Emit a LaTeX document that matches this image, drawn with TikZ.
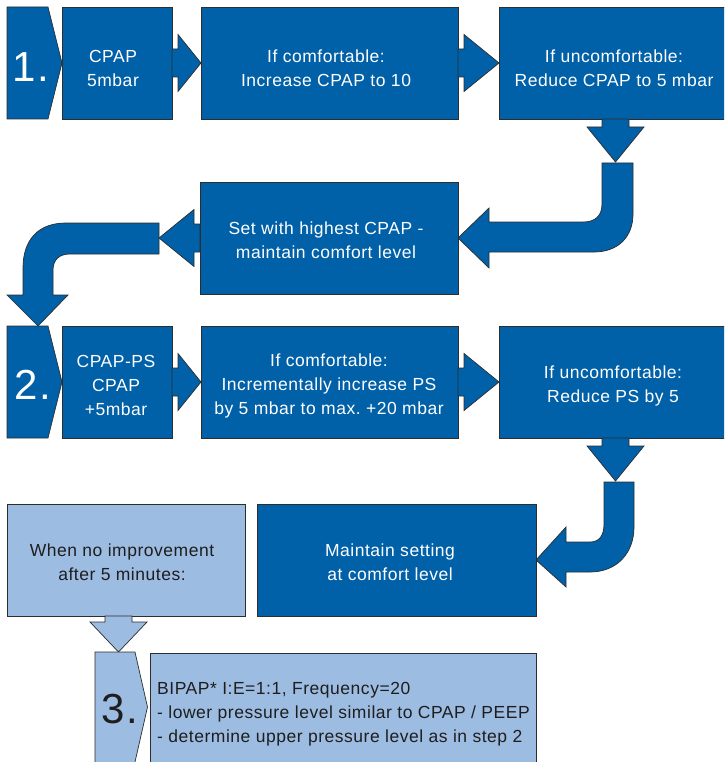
\documentclass[tikz,border=0pt]{standalone}
\usepackage{fontspec}
\setmainfont[LetterSpace=3]{Liberation Sans}
\usetikzlibrary{calc}
\definecolor{dblue}{RGB}{0,96,168}
\definecolor{lblue}{RGB}{157,188,226}
\definecolor{edgec}{RGB}{45,45,45}
\definecolor{dtext}{RGB}{30,30,30}
\frenchspacing
\begin{document}
\begin{tikzpicture}[x=1pt,y=-1pt,
  darkshape/.style={fill=dblue,draw=edgec,line width=0.7pt,line join=miter},
  lightshape/.style={fill=lblue,draw=edgec,line width=0.7pt,line join=miter},
  darkbox/.style={darkshape,rectangle,inner sep=0pt,outer sep=0pt},
  lightbox/.style={lightshape,rectangle,inner sep=0pt,outer sep=0pt},
  wtxt/.style={text=white,align=center,font=\fontsize{17.5}{24}\selectfont,inner sep=0pt},
  ktxt/.style={text=dtext,align=center,font=\fontsize{17.5}{24}\selectfont,inner sep=0pt},
  bignum/.style={font=\fontsize{42}{42}\selectfont,inner sep=0pt,anchor=base}
]
\path[use as bounding box] (0,0) rectangle (724,762);
\clip (0,0) rectangle (724,762);
\fill[white] (0,0) rectangle (724,762);

\newcommand\rblk[2]{\draw[darkshape] ($(#1.east)+(0,-14)$) -- ++(6,0) -- ++(0,-14.5) -- (#2.west) -- ($(#1.east)+(6,28.5)$) -- ++(0,-14.5) -- ++(-6,0) -- cycle;}

% ---------- row 1 ----------
\node[darkbox,minimum width=110pt,minimum height=112pt] (b1) at (117,63) {};
\node[darkbox,minimum width=257pt,minimum height=112pt] (b2) at (329.5,63) {};
\node[darkbox,minimum width=231pt,minimum height=112pt] (b3) at (614.5,63) {};
\draw[darkshape] (7,7) -- (48,7) -- (b1.west) -- (48,119) -- (7,119) -- cycle;
\node[bignum,text=white] (n1) at (31,82) {1.};
\node[wtxt] (t1) at (113,68.5) {CPAP\\5mbar};
\node[wtxt] (t2) at (326,68.5) {If comfortable:\\Increase CPAP to 10};
\node[wtxt] (t3) at (614,68.5) {If uncomfortable:\\Reduce CPAP to 5 mbar};
\rblk{b1}{b2}
\rblk{b2}{b3}
\coordinate (d1) at (615.5,162);
\draw[darkshape] (602,119) -- (602,127) -- (587,127) -- (d1) -- (644,127) -- (629,127) -- (629,119) -- cycle;

% ---------- set with highest CPAP ----------
\node[darkbox,minimum width=258pt,minimum height=112pt] (bS) at (329,238) {};
\node[wtxt] (tS) at (326,240) {Set with highest CPAP -\\maintain comfort level};
\draw[darkshape] (602,163) -- (633,163) -- (633,214) .. controls (633,237) and (618,252) .. (594,252)
  -- (489,252) -- (489,268) -- (bS.east) -- (489,208) -- (489,222) -- (583,222)
  .. controls (595,222) and (602,216) .. (602,204) -- cycle;
\coordinate (l1) at (159,238);
\draw[darkshape] (bS.west |- 0,224) -- (194,224) -- (194,209.5) -- (l1) -- (194,266.5) -- (194,252) -- (bS.west |- 0,252) -- cycle;

% ---------- row 2 ----------
\node[darkbox,minimum width=110pt,minimum height=112pt] (b4) at (117,382) {};
\node[darkbox,minimum width=257pt,minimum height=112pt] (b5) at (329.5,382) {};
\node[darkbox,minimum width=231pt,minimum height=112pt] (b6) at (614.5,382) {};
\draw[darkshape] (7,326) -- (48,326) -- (b4.west) -- (48,438) -- (7,438) -- cycle;
\draw[darkshape] (159,223) -- (66,223) .. controls (38,223) and (23,240) .. (23,268) -- (23,295) -- (7,295)
  -- (38,326) -- (68,295) -- (53,295) -- (53,270) .. controls (53,260) and (59,254) .. (70,254) -- (159,254) -- cycle;
\node[bignum,text=white] (n2) at (33,399) {2.};
\node[wtxt] (t4) at (116,385.5) {CPAP-PS\\CPAP\\+5mbar};
\node[wtxt] (t5) at (329,385.5) {If comfortable:\\Incrementally increase PS\\by 5 mbar to max. +20 mbar};
\node[wtxt] (t6) at (613,386) {If uncomfortable:\\Reduce PS by 5};
\rblk{b4}{b5}
\rblk{b5}{b6}
\coordinate (d2) at (615.5,481);
\draw[darkshape] (602,438) -- (602,446) -- (587,446) -- (d2) -- (644,446) -- (629,446) -- (629,438) -- cycle;

% ---------- row 3 ----------
\node[darkbox,minimum width=279pt,minimum height=112pt] (bM) at (396.5,560) {};
\node[wtxt] (tM) at (390,562) {Maintain setting\\at comfort level};
\draw[darkshape] (604,482) -- (634,482) -- (634,527) .. controls (634,553) and (617,572) .. (590,572)
  -- (566,572) -- (566,587) -- (bM.east) -- (566,527) -- (566,542) -- (590,542)
  .. controls (599,542) and (604,536) .. (604,524) -- cycle;

\node[lightbox,minimum width=238pt,minimum height=112pt] (bH) at (126,560) {};
\node[ktxt] (tH) at (122,562) {When no improvement\\after 5 minutes:};
\coordinate (d3) at (118.5,652);
\draw[lightshape] (105,616) -- (105,622) -- (90,622) -- (d3) -- (147,622) -- (132,622) -- (132,616) -- cycle;

% ---------- step 3 ----------
\node[lightbox,minimum width=386pt,minimum height=127pt] (bI) at (343,716.5) {};
\draw[lightshape] (95,652) -- (135,652) -- (147.5,707) -- (135,762) -- (135,790) -- (95,790) -- cycle;
\node[bignum,text=dtext] (n3) at (120,723) {3.};
\node[ktxt,align=left,anchor=west] (tI) at (157,714) {BIPAP* I:E=1:1, Frequency=20\\- lower pressure level similar to CPAP / PEEP\\- determine upper pressure level as in step 2};
\end{tikzpicture}
\end{document}
